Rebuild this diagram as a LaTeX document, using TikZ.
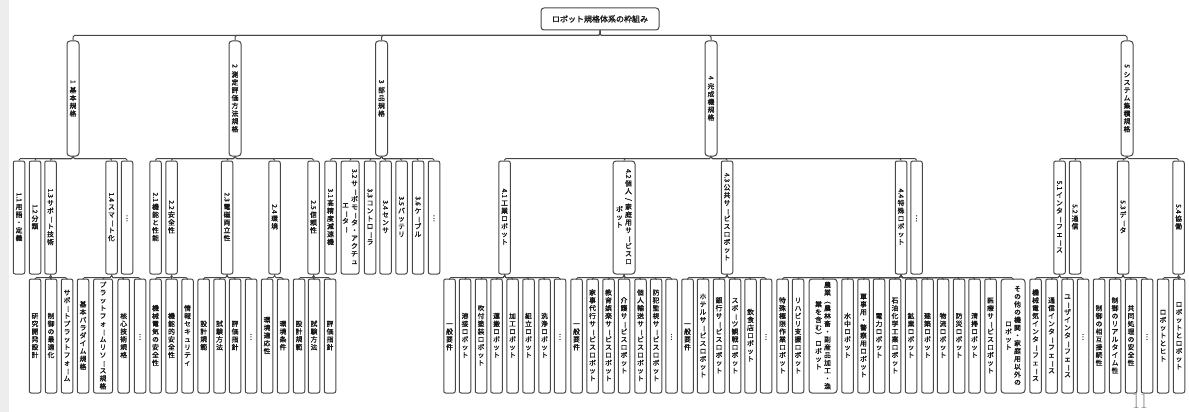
\documentclass[tikz,border=0pt]{standalone}
\usepackage{fontspec}
\usepackage{graphicx}
\newfontfamily\jp{Noto Sans CJK JP}[FakeBold=1.6]
\newdimen\vtw \vtw=8pt
\newdimen\vtp \vtp=7.8pt
\newcommand\rt[1]{\rotatebox[origin=c]{-90}{#1\hspace{1.5pt}}}
\def\vtend{VTEND}
\def\vsel#1{\ifx ー#1\rotatebox[origin=c]{-90}{ー}\else\ifx （#1\rotatebox[origin=c]{-90}{（}\else\ifx ）#1\rotatebox[origin=c]{-90}{）}\else\ifx /#1\rotatebox[origin=c]{-90}{/}\else\ifx …#1\rotatebox[origin=c]{90}{…}\else#1\fi\fi\fi\fi\fi}
\def\vcell#1{\hbox to\vtw{\hss\vrule height .76\vtp depth .24\vtp width 0pt\relax\vsel{#1}\hss}}
\def\vtloop#1{\ifx\vtend#1\else\vcell{#1}\expandafter\vtloop\fi}
\newcommand\vtext[1]{$\vcenter{\offinterlineskip\vtloop#1\vtend}$}
\newcommand\vtwocol[2]{\vtext{#2}\hskip 1pt\vtext{#1}}
\tikzset{
  box/.style={draw=black!72, line width=1pt, rounded corners=2pt, inner sep=0pt,
    text=black!90, font=\jp\fontsize{6.8}{7}\selectfont},
  l1/.style={box, minimum width=12pt, minimum height=115pt, rounded corners=3pt},
  l2/.style={box, minimum width=11.5pt, minimum height=113pt},
  l3/.style={box, minimum width=11.5pt, minimum height=114pt},
  conn/.style={draw=black!72, line width=1pt, rounded corners=1.5pt}
}
\begin{document}
\begin{tikzpicture}[x=1pt,y=-1pt]
\useasboundingbox (0,0) rectangle (1189,412);
\fill[black!7] (0,0) rectangle (9,412);
% root
\node[draw=black!72, line width=1pt, rounded corners=3pt, minimum width=118pt, minimum height=22pt,
  font=\jp\fontsize{8}{9}\selectfont, text=black!90] (root) at (600,19) {ロボット規格体系の枠組み};
% level 1
\node[l1] (L1) at (73,98.5) {\vtext{{\rt{1}}基本規格}};
\node[l1] (L2) at (235,98.5) {\vtext{{\rt{2}}測定評価方法規格}};
\node[l1] (L3) at (381.5,98.5) {\vtext{{\rt{3}}部品規格}};
\node[l1] (L4) at (711,98.5) {\vtext{{\rt{4}}完成機規格}};
\node[l1] (L5) at (1127,98.5) {\vtext{{\rt{5}}システム集積規格}};
% level 2
\node[l2] (a11) at (19,217.5) {\vtext{{\rt{1.1}}用語・定義}};
\node[l2] (a12) at (35,217.5) {\vtext{{\rt{1.2}}分類}};
\node[l2] (a13) at (50.5,217.5) {\vtext{{\rt{1.3}}サポート技術}};
\node[l2] (a14) at (111.5,217.5) {\vtext{{\rt{1.4}}スマート化}};
\node[l2] (a1e) at (127,217.5) {\vtext{…}};
\node[l2] (b21) at (155.5,217.5) {\vtext{{\rt{2.1}}機能と性能}};
\node[l2] (b22) at (171.5,217.5) {\vtext{{\rt{2.2}}安全性}};
\node[l2] (b23) at (227,217.5) {\vtext{{\rt{2.3}}電磁両立性}};
\node[l2] (b24) at (274.5,217.5) {\vtext{{\rt{2.4}}環境}};
\node[l2] (b25) at (313.5,217.5) {\vtext{{\rt{2.5}}信頼性}};
\node[l2] (c31) at (330.5,217.5) {\vtext{{\rt{3.1}}高精度減速機}};
\node[l2, minimum width=18pt] (c32) at (350,217.5) {\vtwocol{{\rt{3.2}}サーボモータ・アクチュ}{エーター}};
\node[l2] (c33) at (370,217.5) {\vtext{{\rt{3.3}}コントローラ}};
\node[l2] (c34) at (385.5,217.5) {\vtext{{\rt{3.4}}センサ}};
\node[l2] (c35) at (401.5,217.5) {\vtext{{\rt{3.5}}バッテリ}};
\node[l2] (c36) at (418,217.5) {\vtext{{\rt{3.6}}ケーブル}};
\node[l2] (c3e) at (434,217.5) {\vtext{…}};
\node[l2] (d41) at (504.5,217.5) {\vtext{{\rt{4.1}}工業ロボット}};
\node[l2, minimum width=22pt, rounded corners=3pt] (d42) at (624,217.5) {\vtwocol{{\rt{4.2}}個人/家庭用サービスロ}{ボット}};
\node[l2] (d43) at (727,217.5) {\vtext{{\rt{4.3}}公共サービスロボット}};
\node[l2] (d44) at (901,217.5) {\vtext{{\rt{4.4}}特殊ロボット}};
\node[l2] (d4e) at (916.5,217.5) {\vtext{…}};
\node[l2] (e51) at (1059.5,217.5) {\vtext{{\rt{5.1}}インターフェース}};
\node[l2] (e52) at (1075,217.5) {\vtext{{\rt{5.2}}通信}};
\node[l2] (e53) at (1123,217.5) {\vtext{{\rt{5.3}}データ}};
\node[l2] (e54) at (1178.5,217.5) {\vtext{{\rt{5.4}}協働}};
% level 3
\node[l3] (m1) at (35,336) {\vtext{研究開発設計}};
\node[l3] (m2) at (51,336) {\vtext{制御の最適化}};
\node[l3] (m3) at (67,336) {\vtext{サポートプラットフォーム}};
\node[l3] (n1) at (83,336) {\vtext{基本パラダイム規格}};
\node[l3, minimum width=19pt] (n2) at (103,336) {\vtext{プラットフォームリソース規格}};
\node[l3] (n3) at (123.7,336) {\vtext{核心技術規格}};
\node[l3] (n4) at (140,336) {\vtext{…}};
\node[l3] (p1) at (155.5,336) {\vtext{機械電気の安全性}};
\node[l3] (p2) at (171.5,336) {\vtext{機能的安全性}};
\node[l3] (p3) at (187.5,336) {\vtext{情報セキュリティ}};
\node[l3] (q1) at (203.7,336) {\vtext{設計規範}};
\node[l3] (q2) at (219.5,336) {\vtext{試験方法}};
\node[l3] (q3) at (235,336) {\vtext{評価指針}};
\node[l3] (q4) at (251,336) {\vtext{…}};
\node[l3] (r1) at (267,336) {\vtext{環境適応性}};
\node[l3] (r2) at (283,336) {\vtext{環境条件}};
\node[l3] (s1) at (299,336) {\vtext{設計規範}};
\node[l3] (s2) at (314,336) {\vtext{試験方法}};
\node[l3] (s3) at (330,336) {\vtext{評価指針}};
\node[l3] (t1) at (449.5,336) {\vtext{一般要件}};
\node[l3] (t2) at (465,336) {\vtext{溶接ロボット}};
\node[l3] (t3) at (481,336) {\vtext{吹付塗装ロボット}};
\node[l3] (t4) at (496.5,336) {\vtext{運搬ロボット}};
\node[l3] (t5) at (512.5,336) {\vtext{加工ロボット}};
\node[l3] (t6) at (528.5,336) {\vtext{組立ロボット}};
\node[l3] (t7) at (544.5,336) {\vtext{洗浄ロボット}};
\node[l3] (t8) at (560,336) {\vtext{…}};
\node[l3] (u1) at (576.5,336) {\vtext{一般要件}};
\node[l3] (u2) at (592.5,336) {\vtext{家事代行サービスロボット}};
\node[l3] (u3) at (608.5,336) {\vtext{教育娯楽サービスロボット}};
\node[l3] (u4) at (624,336) {\vtext{介護サービスロボット}};
\node[l3] (u5) at (640.5,336) {\vtext{個人輸送サービスロボット}};
\node[l3] (u6) at (656,336) {\vtext{防犯監視サービスロボット}};
\node[l3] (u7) at (671.5,336) {\vtext{…}};
\node[l3] (v1) at (687.5,336) {\vtext{一般要件}};
\node[l3] (v2) at (703,336) {\vtext{ホテルサービスロボット}};
\node[l3] (v3) at (719,336) {\vtext{銀行サービスロボット}};
\node[l3] (v4) at (735,336) {\vtext{スポーツ観戦ロボット}};
\node[l3] (v5) at (750.5,336) {\vtext{飲食店ロボット}};
\node[l3] (v6) at (766,336) {\vtext{…}};
\node[l3] (w1) at (782.5,336) {\vtext{特殊極限作業ロボット}};
\node[l3] (w2) at (798,336) {\vtext{リハビリ支援ロボット}};
\node[l3, minimum width=28pt, rounded corners=3pt] (w3) at (823,336) {\vtwocol{農業（農林畜・副産品加工・漁}{業を含む）ロボット}};
\node[l3] (w4) at (847.5,336) {\vtext{水中ロボット}};
\node[l3] (w5) at (863.5,336) {\vtext{軍事用・警察用ロボット}};
\node[l3] (w6) at (879,336) {\vtext{電力ロボット}};
\node[l3] (w7) at (895,336) {\vtext{石油化学工業ロボット}};
\node[l3] (w8) at (911,336) {\vtext{鉱業ロボット}};
\node[l3] (w9) at (927.5,336) {\vtext{建築ロボット}};
\node[l3] (w10) at (943,336) {\vtext{物流ロボット}};
\node[l3] (w11) at (959,336) {\vtext{防災ロボット}};
\node[l3] (w12) at (974.5,336) {\vtext{清掃ロボット}};
\node[l3] (w13) at (990.5,336) {\vtext{医療サービスロボット}};
\node[l3, minimum width=24pt, rounded corners=3pt] (w14) at (1013,336) {\vtwocol{その他の機関・家庭用以外の}{ロボット}};
\node[l3] (xa) at (1035.5,336) {\vtext{機械電気インターフェース}};
\node[l3] (xb) at (1051.5,336) {\vtext{通信インターフェース}};
\node[l3] (xc) at (1067.5,336) {\vtext{ユーザインターフェース}};
\node[l3] (xd) at (1083,336) {\vtext{…}};
\node[l3] (ya) at (1099,336) {\vtext{制御の相互接続性}};
\node[l3] (yb) at (1115,336) {\vtext{制御のリアルタイム性}};
\node[l3] (yc) at (1131,336) {\vtext{共同処理の安全性}};
\node[l3] (yd) at (1147,336) {\vtext{…}};
\node[l3] (za) at (1163,336) {\vtext{ロボットとヒト}};
\node[l3] (zb) at (1179,336) {\vtext{ロボットとロボット}};
% page number
\node[text=black!45, font=\fontsize{23}{23}\selectfont, inner sep=0pt] (pg) at (1140,401) {\scalebox{0.72}[1]{11}};
% connectors
\foreach \c in {L1,L2,L3,L4,L5} \draw[conn] (root.south) -- ++(0,5) -| (\c.north);
\foreach \c in {a11,a12,a13,a14,a1e} \draw[conn] (L1.south) -- ++(0,2) -| (\c.north);
\foreach \c in {b21,b22,b23,b24,b25} \draw[conn] (L2.south) -- ++(0,2) -| (\c.north);
\foreach \c in {c31,c32,c33,c34,c35,c36,c3e} \draw[conn] (L3.south) -- ++(0,2) -| (\c.north);
\foreach \c in {d41,d42,d43,d44,d4e} \draw[conn] (L4.south) -- ++(0,2) -| (\c.north);
\foreach \c in {e51,e52,e53,e54} \draw[conn] (L5.south) -- ++(0,2) -| (\c.north);
\foreach \c in {m1,m2,m3} \draw[conn] (a13.south) -- ++(0,3) -| (\c.north);
\foreach \c in {n1,n2,n3,n4} \draw[conn] (a14.south) -- ++(0,3) -| (\c.north);
\foreach \c in {p1,p2,p3} \draw[conn] (b22.south) -- ++(0,3) -| (\c.north);
\foreach \c in {q1,q2,q3,q4} \draw[conn] (b23.south) -- ++(0,3) -| (\c.north);
\foreach \c in {r1,r2} \draw[conn] (b24.south) -- ++(0,3) -| (\c.north);
\foreach \c in {s1,s2,s3} \draw[conn] (b25.south) -- ++(0,3) -| (\c.north);
\foreach \c in {t1,t2,t3,t4,t5,t6,t7,t8} \draw[conn] (d41.south) -- ++(0,3) -| (\c.north);
\foreach \c in {u1,u2,u3,u4,u5,u6,u7} \draw[conn] (d42.south) -- ++(0,3) -| (\c.north);
\foreach \c in {v1,v2,v3,v4,v5,v6} \draw[conn] (d43.south) -- ++(0,3) -| (\c.north);
\foreach \c in {w1,w2,w3,w4,w5,w6,w7,w8,w9,w10,w11,w12,w13,w14} \draw[conn] (d44.south) -- ++(0,3) -| (\c.north);
\foreach \c in {xa,xb,xc,xd} \draw[conn] (e51.south) -- ++(0,3) -| (\c.north);
\foreach \c in {ya,yb,yc,yd} \draw[conn] (e53.south) -- ++(0,3) -| (\c.north);
\foreach \c in {za,zb} \draw[conn] (e54.south) -- ++(0,3) -| (\c.north);
\end{tikzpicture}
\end{document}
